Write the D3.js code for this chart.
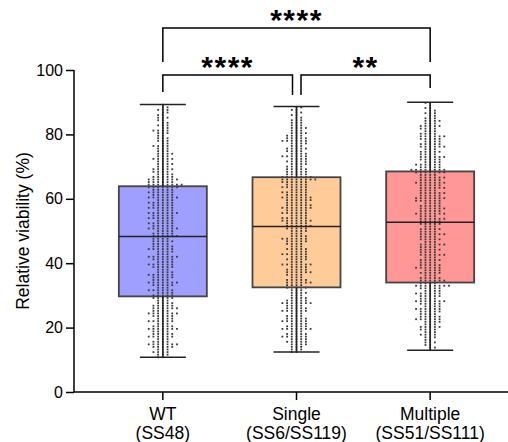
<!DOCTYPE html>
<html>
<head>
<meta charset="utf-8">
<script src="https://cdn.jsdelivr.net/npm/d3@7"></script>
<style>
  body { margin: 0; background: #fff; }
  svg { display: block; font-family: Arial, "Liberation Sans", sans-serif; }
</style>
</head>
<body>
<svg id="chart" width="508" height="442"></svg>
<script>
/* Relative viability per strain group: box (min–max whiskers) + scatter dots. */
const groups = ["WT", "Single", "Multiple"];
const subLabels = ["(SS48)", "(SS6/SS119)", "(SS51/SS111)"];
const boxColors = ["#9f9fff", "#ffcc99", "#ff9797"];

const mins    = [10.8, 12.4, 13.0];
const q1s     = [29.7, 32.5, 34.0];
const medians = [48.3, 51.4, 52.7];
const q3s     = [63.9, 66.7, 68.5];
const maxs    = [89.3, 88.7, 90.0];

const yTicks = [0, 20, 40, 60, 80, 100];

// dots per 0.8-unit bin, from each group's minimum upward
const BIN = 0.8;
const wtCounts = [
  2,3,4,3,5,7,4,3,6,5,4,7,5,3,6,4,5,7,4,6,5,4,3,5,
  5,4,6,3,5,7,4,5,6,4,3,5,6,4,5,7,3,4,6,5,4,5,4,
  6,5,4,7,5,6,4,6,5,7,4,6,5,6,4,7,5,6,5,7,
  8,6,7,5,4,4,5,3,4,3,5,3,4,3,3,4,2,3,3,2,3,4,2,3,2,2,3,2,2,3,2,1
];
const singleCounts = [
  2,3,3,4,5,4,6,5,3,7,5,4,6,5,4,3,6,5,4,7,5,4,3,4,3,
  5,4,6,5,3,4,6,5,4,7,3,5,4,6,4,5,3,4,5,6,4,3,4,5,
  6,5,7,6,4,6,5,7,6,5,6,7,5,6,4,6,5,6,8,
  7,5,5,5,4,4,5,4,6,4,4,5,3,4,6,5,4,4,3,4,3,3,3,2,2,2,2,2
];
const multipleCounts = [
  1,2,2,3,2,3,4,3,4,5,3,4,6,5,4,5,6,4,5,7,4,5,6,4,5,8,
  4,6,5,3,5,4,6,5,4,5,3,6,4,5,4,6,3,5,4,6,4,5,3,5,
  5,6,4,7,5,6,5,4,6,7,5,6,4,6,5,7,5,6,4,7,
  8,5,6,4,5,6,4,5,3,6,5,4,5,6,4,3,4,5,3,4,3,2,3,2,2,1,2
];
const counts = [wtCounts, singleCounts, multipleCounts];

// significance comparisons: [from, to, label]
const comparisons = [["WT", "Multiple", "****"], ["WT", "Single", "****"], ["Single", "Multiple", "**"]];

const svg = d3.select("#chart");
const x = d3.scaleBand().domain(groups).range([96, 497]);
const y = d3.scaleLinear().domain([0, 100]).range([392, 70]);
const cx = g => x(g) + x.bandwidth() / 2;
const boxW = 88, capW = 46, colGap = 4.7;

// y axis
const yAxis = svg.append("g").attr("transform", "translate(74,0)")
  .call(d3.axisLeft(y).tickValues(yTicks).tickSize(8).tickPadding(3));
yAxis.selectAll("text").attr("font-size", 16).attr("fill", "#000");
yAxis.selectAll("line").attr("stroke", "#000").attr("stroke-width", 1.5);
yAxis.select(".domain").attr("stroke", "#000").attr("stroke-width", 1.5).attr("d", `M0,${y(100)}V${y(0)}`);

// x axis
const xAxis = svg.append("g").attr("transform", `translate(0,${y(0)})`)
  .call(d3.axisBottom(x).tickSize(8).tickFormat(""));
xAxis.selectAll("line").attr("stroke", "#000").attr("stroke-width", 1.5);
xAxis.select(".domain").attr("stroke", "#000").attr("stroke-width", 1.5).attr("d", "M74,0H508");
groups.forEach((g, i) => {
  const t = svg.append("text").attr("x", cx(g)).attr("text-anchor", "middle").attr("font-size", 17.5);
  t.append("tspan").attr("x", cx(g)).attr("y", 420).text(g);
  t.append("tspan").attr("x", cx(g)).attr("y", 438.5).text(subLabels[i]);
});

svg.append("text")
  .attr("transform", `translate(29,${(y(0) + y(100)) / 2}) rotate(-90)`)
  .attr("text-anchor", "middle").attr("font-size", 17.5)
  .text("Relative viability (%)");

// boxes (fill first, dots over, outlines on top)
groups.forEach((g, i) => {
  svg.append("rect")
    .attr("x", cx(g) - boxW / 2).attr("y", y(q3s[i]))
    .attr("width", boxW).attr("height", y(q1s[i]) - y(q3s[i]))
    .attr("fill", boxColors[i]);
});

groups.forEach((g, i) => {
  const pts = [];
  counts[i].forEach((c, lvl) => {
    const v = mins[i] + lvl * BIN;
    const flip = lvl % 2 ? -1 : 1;
    for (let k = 0; k < c; k++) {
      const off = k === 0 ? 0 : (k % 2 ? -1 : 1) * flip * Math.ceil(k / 2);
      pts.push({ v, off });
    }
  });
  svg.append("g").selectAll("rect").data(pts).join("rect")
    .attr("x", d => cx(g) + d.off * colGap - 0.9)
    .attr("y", d => y(d.v) - 0.9)
    .attr("width", 1.8).attr("height", 1.8)
    .attr("fill", "#3a3a3a");
});

groups.forEach((g, i) => {
  const c = cx(g);
  const gl = svg.append("g").attr("stroke", "#222").attr("stroke-width", 1.5).attr("fill", "none");
  gl.append("rect").attr("x", c - boxW / 2).attr("y", y(q3s[i]))
    .attr("width", boxW).attr("height", y(q1s[i]) - y(q3s[i])).attr("stroke", "#444").attr("stroke-width", 1.8);
  gl.append("line").attr("x1", c - boxW / 2).attr("x2", c + boxW / 2)
    .attr("y1", y(medians[i])).attr("y2", y(medians[i]));
  gl.append("line").attr("x1", c).attr("x2", c).attr("y1", y(q3s[i])).attr("y2", y(maxs[i]));
  gl.append("line").attr("x1", c).attr("x2", c).attr("y1", y(q1s[i])).attr("y2", y(mins[i]));
  gl.append("line").attr("x1", c - capW / 2).attr("x2", c + capW / 2).attr("y1", y(maxs[i])).attr("y2", y(maxs[i]));
  gl.append("line").attr("x1", c - capW / 2).attr("x2", c + capW / 2).attr("y1", y(mins[i])).attr("y2", y(mins[i]));
});

// significance brackets
const brackets = [
  { x1: cx("WT"), x2: cx("Multiple"), top: 28, l1: 62, l2: 62, ty: 30 },
  { x1: cx("WT"), x2: cx("Single") - 4, top: 75, l1: 92, l2: 95, ty: 77 },
  { x1: cx("Single") + 4.5, x2: cx("Multiple"), top: 75, l1: 95, l2: 88, ty: 77 }
];
brackets.forEach((b, i) => {
  svg.append("path")
    .attr("d", `M${b.x1},${b.l1}V${b.top}H${b.x2}V${b.l2}`)
    .attr("fill", "none").attr("stroke", "#000").attr("stroke-width", 1.5);
  svg.append("text").attr("x", (b.x1 + b.x2) / 2).attr("y", b.ty)
    .attr("text-anchor", "middle").attr("font-size", 30).attr("font-weight", "bold")
    .attr("letter-spacing", 1.5)
    .text(comparisons[i][2]);
});
</script>
</body>
</html>
